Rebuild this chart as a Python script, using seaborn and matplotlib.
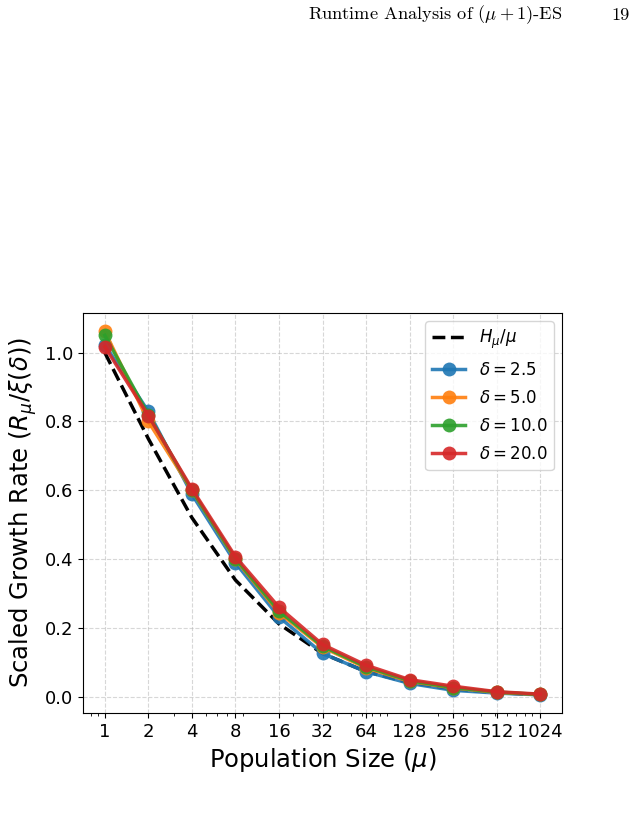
import numpy as np
import pandas as pd
import seaborn as sns
import matplotlib.pyplot as plt

# Veriler
mu = [1, 2, 4, 8, 16, 32, 64, 128, 256, 512, 1024]
harmonic = [1.0, 0.75, 0.521, 0.340, 0.2128, 0.1268, 0.0742, 0.0425, 0.0238, 0.0133, 0.0073]
delta_labels = ["2.5", "5.0", "10.0", "20.0"]
rate_d25 = [1.023, 0.829, 0.589, 0.390, 0.233, 0.127, 0.074, 0.040, 0.020, 0.012, 0.007]
rate_d5 = [1.062, 0.800, 0.600, 0.400, 0.245, 0.145, 0.085, 0.046, 0.027, 0.014, 0.008]
rate_d10 = [1.050, 0.820, 0.600, 0.402, 0.250, 0.148, 0.088, 0.048, 0.028, 0.015, 0.008]
rate_d20 = [1.017, 0.817, 0.605, 0.408, 0.261, 0.153, 0.093, 0.051, 0.032, 0.016, 0.009]
rates = [rate_d25, rate_d5, rate_d10, rate_d20]
colors = sns.color_palette("tab10", 4)

plt.rcParams["font.family"] = ["DejaVu Sans"]

fig = plt.figure(figsize=(6.37, 8.17), dpi=100)
ax = fig.add_axes([0.1303, 0.1273, 0.752, 0.4896])

# Sayfa başlığı
fig.text(308 / 637, 1 - 15 / 817, r"Runtime Analysis of $(\mu + 1)$-ES",
         family="cmr10", math_fontfamily="cm", fontsize=13.2, va="center", ha="left")
fig.text(630 / 637, 1 - 15 / 817, "19", family="cmr10", fontsize=13.2, va="center", ha="right")

sns.lineplot(x=mu, y=harmonic, ax=ax, color="black", linestyle="--", linewidth=2.5,
             label=r"$H_\mu/\mu$")
for lab, vals, c in zip(delta_labels, rates, colors):
    sns.lineplot(x=mu, y=vals, ax=ax, color=c, marker="o", markersize=10,
                 markeredgewidth=0, linewidth=2.5, alpha=0.9,
                 label=r"$\delta = %s$" % lab)

ax.set_xscale("log")
ax.set_xticks(mu)
ax.set_xticklabels([str(m) for m in mu])
ax.tick_params(axis="both", labelsize=13)
ax.set_yticks([0.0, 0.2, 0.4, 0.6, 0.8, 1.0])
ax.grid(True, linestyle="--", alpha=0.5)
ax.set_xlabel(r"Population Size ($\mu$)", fontsize=17.5)
ax.set_ylabel(r"Scaled Growth Rate ($R_\mu/\xi(\delta)$)", fontsize=17.5)
ax.legend(fontsize=12, loc="upper right", labelspacing=0.6)

fig.savefig("out.png", dpi=100)
